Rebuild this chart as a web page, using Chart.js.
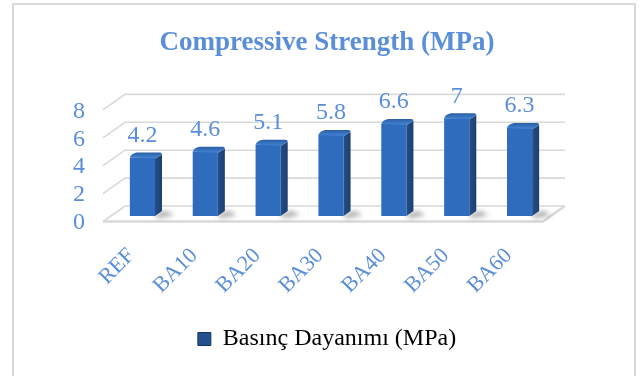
<!DOCTYPE html>
<html>
<head>
<meta charset="utf-8">
<script src="https://cdn.jsdelivr.net/npm/chart.js@4/dist/chart.umd.min.js"></script>
<style>
  html, body { margin: 0; padding: 0; background: #ffffff; }
  #wrap { width: 640px; height: 376px; }
</style>
</head>
<body>
<div id="wrap"><canvas id="c" width="640" height="376"></canvas></div>
<script>
// Compressive strength per mix
const categories = ['REF', 'BA10', 'BA20', 'BA30', 'BA40', 'BA50', 'BA60'];
const strengthValues = [4.2, 4.6, 5.1, 5.8, 6.6, 7, 6.3];
const seriesName = 'Basınç Dayanımı (MPa)';
const chartTitle = 'Compressive Strength (MPa)';
const yTicks = [0, 2, 4, 6, 8];

const TEXT_BLUE = '#5b8ed8';
const GRID_GREY = '#d9d9d9';
const SERIF = '"Liberation Serif", "Times New Roman", serif';

// perspective offsets of the 3D box relative to the bar front plane
const FRONT = { dx: -8, dy: 5.5 };
const BACK = { dx: 14, dy: -10 };
const DEPTH = { dx: 7, dy: 5 };

// Outer frame of the chart object
const framePlugin = {
  id: 'frame',
  beforeDraw(chart) {
    const ctx = chart.ctx;
    ctx.save();
    ctx.fillStyle = '#ffffff';
    ctx.fillRect(0, 0, chart.width, chart.height);
    ctx.strokeStyle = GRID_GREY;
    ctx.lineWidth = 2;
    ctx.beginPath();
    ctx.moveTo(13, 380);
    ctx.lineTo(13, 4);
    ctx.lineTo(635, 4);
    ctx.lineTo(635, 380);
    ctx.stroke();
    ctx.restore();
  }
};

// Back wall, side wall and floor of the 3D plot box
const box3dPlugin = {
  id: 'box3d',
  beforeDatasetsDraw(chart) {
    const { ctx, chartArea: a, scales: { y } } = chart;
    ctx.save();
    ctx.strokeStyle = GRID_GREY;
    ctx.lineWidth = 1.6;
    yTicks.forEach(v => {
      const py = y.getPixelForValue(v);
      ctx.beginPath();
      ctx.moveTo(a.left + FRONT.dx, py + FRONT.dy);
      ctx.lineTo(a.left + BACK.dx, py + BACK.dy);
      ctx.lineTo(a.right + BACK.dx, py + BACK.dy);
      ctx.stroke();
    });
    // floor slab
    const p0 = y.getPixelForValue(0);
    ctx.lineWidth = 2.6;
    ctx.beginPath();
    ctx.moveTo(a.left + FRONT.dx, p0 + FRONT.dy);
    ctx.lineTo(a.right + FRONT.dx, p0 + FRONT.dy);
    ctx.lineTo(a.right + BACK.dx, p0 + BACK.dy);
    ctx.stroke();

    // soft shadows cast on the floor
    const meta = chart.getDatasetMeta(0);
    meta.data.forEach(bar => {
      const w = bar.width;
      const xr = bar.x + w / 2;
      ctx.save();
      ctx.filter = 'blur(2.5px)';
      ctx.fillStyle = 'rgba(60,60,60,0.45)';
      ctx.beginPath();
      ctx.moveTo(xr - 2, bar.base - 1);
      ctx.lineTo(xr + DEPTH.dx + 4, bar.base - DEPTH.dy);
      ctx.lineTo(xr + DEPTH.dx + 12, bar.base - 1);
      ctx.lineTo(xr + 4, bar.base + 2);
      ctx.closePath();
      ctx.fill();
      ctx.restore();
    });
    ctx.restore();
  },
  afterDatasetsDraw(chart) {
    const { ctx } = chart;
    const meta = chart.getDatasetMeta(0);
    ctx.save();
    meta.data.forEach(bar => {
      const w = bar.width;
      const xl = bar.x - w / 2, xr = bar.x + w / 2;
      const top = bar.y, base = bar.base;
      // side face
      const sg = ctx.createLinearGradient(xr, 0, xr + DEPTH.dx, 0);
      sg.addColorStop(0, '#244f88');
      sg.addColorStop(1, '#1c3f70');
      ctx.fillStyle = sg;
      ctx.beginPath();
      ctx.moveTo(xr, top + 1);
      ctx.lineTo(xr + DEPTH.dx, top - DEPTH.dy + 2);
      ctx.lineTo(xr + DEPTH.dx, base - DEPTH.dy);
      ctx.lineTo(xr, base);
      ctx.closePath();
      ctx.fill();
      // top face
      const tg = ctx.createLinearGradient(0, top - DEPTH.dy, 0, top);
      tg.addColorStop(0, '#2c5ea3');
      tg.addColorStop(1, '#3f7fcf');
      ctx.fillStyle = tg;
      ctx.beginPath();
      ctx.moveTo(xl, top);
      ctx.quadraticCurveTo(xl + 1, top - DEPTH.dy + 1, xl + DEPTH.dx, top - DEPTH.dy);
      ctx.lineTo(xr + DEPTH.dx - 2, top - DEPTH.dy);
      ctx.quadraticCurveTo(xr + DEPTH.dx, top - DEPTH.dy, xr + DEPTH.dx, top - DEPTH.dy + 2);
      ctx.lineTo(xr, top + 1);
      ctx.closePath();
      ctx.fill();
    });
    // value labels
    ctx.fillStyle = TEXT_BLUE;
    ctx.font = '24px ' + SERIF;
    ctx.textAlign = 'center';
    ctx.textBaseline = 'middle';
    meta.data.forEach((bar, i) => {
      ctx.fillText(String(strengthValues[i]), bar.x, bar.y - 22);
    });
    ctx.restore();
  }
};

const ctx = document.getElementById('c').getContext('2d');

new Chart(ctx, {
  type: 'bar',
  data: {
    labels: categories,
    datasets: [{
      label: seriesName,
      data: strengthValues,
      backgroundColor(context) {
        const el = context.element;
        const area = context.chart.chartArea;
        if (!el || !area || !isFinite(el.x)) return '#2f6cbd';
        const w = el.width || 25;
        const g = context.chart.ctx.createLinearGradient(el.x - w / 2, 0, el.x + w / 2, 0);
        g.addColorStop(0, '#2b62ae');
        g.addColorStop(0.35, '#3473c4');
        g.addColorStop(1, '#2c66b4');
        return g;
      },
      borderWidth: 0,
      barPercentage: 0.4,
      categoryPercentage: 1.0
    }]
  },
  options: {
    responsive: false,
    animation: false,
    devicePixelRatio: 1,
    layout: { padding: { left: 14, right: 0, top: 0, bottom: 15 } },
    plugins: {
      title: {
        display: true,
        text: chartTitle,
        color: TEXT_BLUE,
        font: { family: SERIF, size: 27, weight: 'bold' },
        padding: { top: 27, bottom: 45 }
      },
      legend: {
        display: true,
        position: 'bottom',
        labels: {
          color: TEXT_BLUE,
          font: { family: SERIF, size: 24 },
          boxWidth: 13,
          boxHeight: 13,
          padding: 10,
          generateLabels() {
            return [{
              text: seriesName,
              fillStyle: '#24528f',
              strokeStyle: '#16345e',
              lineWidth: 1,
              datasetIndex: 0,
              hidden: false
            }];
          }
        }
      },
      tooltip: { enabled: false }
    },
    scales: {
      x: {
        grid: { display: false, drawTicks: false },
        border: { display: false },
        ticks: {
          color: TEXT_BLUE,
          font: { family: SERIF, size: 22 },
          maxRotation: 45,
          minRotation: 45,
          padding: 27,
          labelOffset: -11
        },
        afterFit(scale) { scale.height = 101; }
      },
      y: {
        min: 0,
        max: 8,
        grid: { display: false, drawTicks: false },
        border: { display: false },
        ticks: {
          stepSize: 2,
          autoSkip: false,
          color: TEXT_BLUE,
          font: { family: SERIF, size: 24 },
          padding: 26,
          labelOffset: 7
        },
        afterBuildTicks(scale) { scale.ticks = yTicks.map(v => ({ value: v })); },
        afterFit(scale) { scale.width = 97; }
      },
      // empty gutter to the right of the plot box
      gutter: {
        type: 'linear',
        position: 'right',
        display: true,
        grid: { display: false, drawTicks: false },
        border: { display: false },
        ticks: { display: false },
        afterFit(scale) { scale.width = 89; }
      }
    }
  },
  plugins: [framePlugin, box3dPlugin]
});
</script>
</body>
</html>
